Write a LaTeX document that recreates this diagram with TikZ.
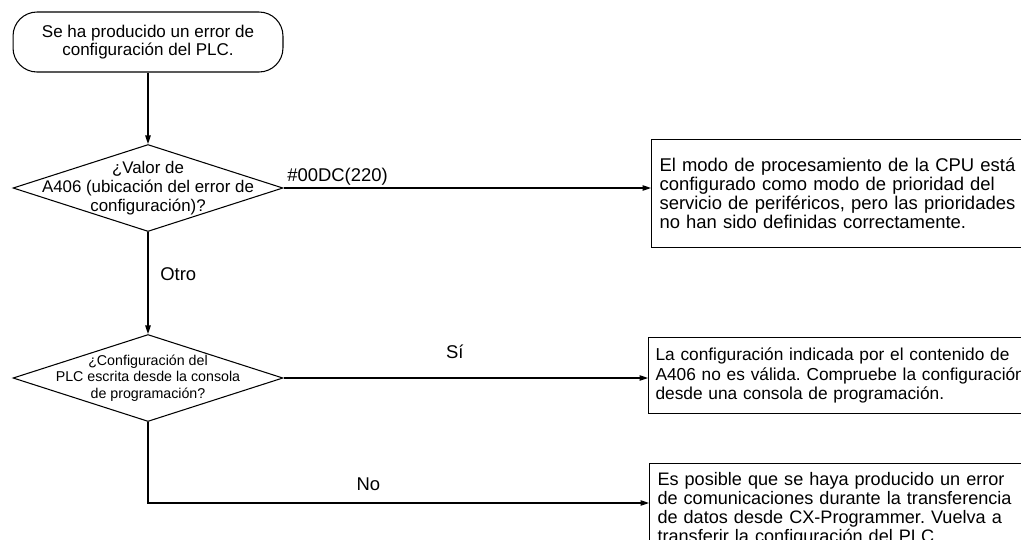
\documentclass[tikz,border=0pt]{standalone}
\usepackage{fontspec}
\setmainfont{Liberation Sans}
\frenchspacing
\usetikzlibrary{shapes.geometric,arrows.meta}

\tikzset{
  flow/.style={line width=0.6pt, -{Triangle[length=1.7mm,width=1.1mm]}},
  startbox/.style={draw, line width=0.6pt, rounded corners=0.48cm, minimum width=5.4cm, minimum height=1.2cm, align=center, font=\fontsize{9.7}{10.4}\selectfont},
  query/.style={draw, diamond, line width=0.6pt, minimum width=5.4cm, minimum height=1.74cm, inner sep=0pt},
  resultbox/.style={draw, line width=0.6pt, anchor=north west, text width=8.2cm, align=left, inner xsep=0.16cm, font=\fontsize{10.5}{10.8}\selectfont},
  tag/.style={anchor=base, inner sep=1pt, font=\fontsize{10.5}{12}\selectfont}
}

\begin{document}
\begin{tikzpicture}[x=0.02cm, y=-0.02cm]
\path[use as bounding box, clip] (0,0) rectangle (1021,539);

\node[startbox] (start) at (148,42) {Se ha producido un error de\\configuración del PLC.};
\node[query, label={[align=center, font=\fontsize{9.6}{11}\selectfont]center:{¿Valor de\\A406 (ubicación del error de\\configuración)?}}] (q1) at (148,188) {};
\node[query, label={[align=center, font=\fontsize{8.1}{9.4}\selectfont]center:{¿Configuración del\\PLC escrita desde la consola\\de programación?}}] (q2) at (148,378) {};

\node[resultbox, minimum height=2.16cm] (r1) at (651,139) {El modo de procesamiento de la CPU está\\configurado como modo de prioridad del\\servicio de periféricos, pero las prioridades\\no han sido definidas correctamente.};
\node[resultbox, minimum height=1.52cm, inner xsep=0.14cm, font=\fontsize{9.85}{11}\selectfont] (r2) at (648,337) {La configuración indicada por el contenido de\\A406 no es válida. Compruebe la configuración\\desde una consola de programación.};
\node[resultbox, minimum height=1.85cm, font=\fontsize{10.3}{10.8}\selectfont] (r3) at (649,463) {Es posible que se haya producido un error\\de comunicaciones durante la transferencia\\de datos desde CX-Programmer. Vuelva a\\transferir la configuración del PLC.};

\draw[flow] (start) -- (q1);
\draw[flow] (q1) -- node[tag, pos=0.48, anchor=base west, xshift=0.2cm] (otro) {Otro} (q2);
\draw[flow] (q1.east) -- node[tag, pos=0.147, yshift=3.6pt] (hex) {\#00DC(220)} (q1.east -| r1.west);
\draw[flow] (q2.east) -- node[tag, pos=0.47, yshift=11pt] (si) {Sí} (q2.east -| r2.west);
\draw[flow] (q2.south) |- node[tag, pos=0.72, yshift=7pt] (no) {No} ([yshift=-0.8cm]r3.north west);
\end{tikzpicture}
\end{document}
